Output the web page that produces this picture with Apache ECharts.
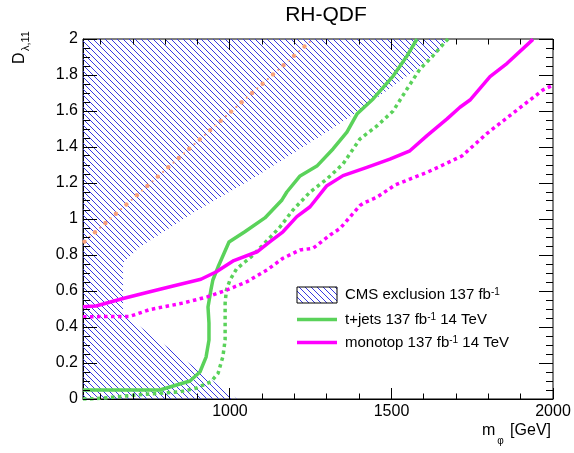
<!DOCTYPE html>
<html><head><meta charset="utf-8">
<script src="https://cdn.jsdelivr.net/npm/echarts@6/dist/echarts.min.js"></script>
<style>html,body{margin:0;padding:0;background:#fff}#c{width:574px;height:453px}</style>
</head><body><div id="c"></div>
<script>
// ---- texts ----
const chartTitle = 'RH-QDF';
const legendNames = ['CMS exclusion 137 fb', 't+jets 137 fb', 'monotop 137 fb'];
const legendTails = ['', ' 14 TeV', ' 14 TeV'];

// ---- axes ----
const xMin = 545, xMax = 2000, yMin = 0, yMax = 2;
const xMajorTicks = [1000, 1500, 2000];
const xMinorTicks = [600, 700, 800, 900, 1100, 1200, 1300, 1400, 1600, 1700, 1800, 1900];
const yMajorTicks = [0, 0.2, 0.4, 0.6, 0.8, 1.0, 1.2, 1.4, 1.6, 1.8, 2.0];
const yMinorTicks = [0.05, 0.1, 0.15, 0.25, 0.3, 0.35, 0.45, 0.5, 0.55, 0.65, 0.7, 0.75, 0.85, 0.9, 0.95,
                     1.05, 1.1, 1.15, 1.25, 1.3, 1.35, 1.45, 1.5, 1.55, 1.65, 1.7, 1.75, 1.85, 1.9, 1.95];

// ---- CMS exclusion region (hatched polygon) ----
const cmsMass = [545, 1675, 1641, 1579, 1505, 1433, 1393, 1310, 1093, 1062, 885, 721, 669, 669, 1022, 545];
const cmsD    = [2.0, 2.0, 1.928, 1.833, 1.739, 1.644, 1.594, 1.494, 1.25, 1.217, 1.033, 0.844, 0.756, 0.472, 0.0, 0.0];

// ---- orange diagonal (dash-dot) ----
const diagMass = [545, 1257];
const diagD    = [0.867, 2.0];

// ---- t+jets solid ----
const tjMass = [545, 783, 876, 907, 926, 935, 935, 932, 941, 947, 963, 997, 1046, 1108, 1161, 1176, 1217, 1269, 1319, 1362, 1393, 1443, 1505, 1548, 1579];
const tjD    = [0.05, 0.05, 0.1, 0.15, 0.233, 0.328, 0.422, 0.511, 0.606, 0.661, 0.733, 0.872, 0.929, 1.006, 1.106, 1.15, 1.239, 1.294, 1.389, 1.483, 1.583, 1.667, 1.794, 1.906, 2.0];

// ---- t+jets dotted ----
const tjdMass = [545, 567, 638, 709, 783, 845, 895, 941, 963, 978, 985, 985, 985, 989, 1000, 1020, 1046, 1068, 1099, 1155, 1195, 1248, 1300, 1350, 1402, 1455, 1505, 1548, 1588, 1628, 1666, 1675];
const tjdD    = [0.0, 0.0, 0.01, 0.022, 0.032, 0.04, 0.06, 0.096, 0.142, 0.235, 0.328, 0.422, 0.533, 0.606, 0.661, 0.722, 0.761, 0.794, 0.85, 0.956, 1.05, 1.15, 1.222, 1.306, 1.444, 1.517, 1.6, 1.722, 1.833, 1.906, 1.983, 2.0];

// ---- monotop solid ----
const mtMass = [545, 585, 669, 752, 824, 910, 958, 1012, 1084, 1124, 1164, 1207, 1248, 1300, 1350, 1424, 1495, 1557, 1610, 1672, 1712, 1743, 1805, 1858, 1938];
const mtD    = [0.513, 0.517, 0.558, 0.596, 0.628, 0.665, 0.707, 0.769, 0.818, 0.874, 0.929, 1.013, 1.068, 1.185, 1.241, 1.287, 1.333, 1.379, 1.463, 1.556, 1.621, 1.661, 1.791, 1.865, 1.998];

// ---- monotop dotted ----
const mtdMass = [545, 690, 752, 855, 929, 991, 1053, 1115, 1164, 1217, 1257, 1310, 1341, 1402, 1412, 1455, 1511, 1557, 1610, 1659, 1718, 1796, 1889, 1969, 2000];
const mtdD    = [0.457, 0.459, 0.497, 0.533, 0.567, 0.606, 0.652, 0.717, 0.782, 0.828, 0.837, 0.911, 0.948, 1.074, 1.087, 1.121, 1.189, 1.222, 1.259, 1.3, 1.35, 1.476, 1.606, 1.717, 1.744];

const GREEN = '#5ad25a', MAGENTA = '#ff00ff', ORANGE = '#f7a07a', HATCH = '#3a3ae0';
const FONT = "'Liberation Sans', Arial, Helvetica, sans-serif";

function pairs(xs, ys) { return xs.map((x, i) => [x, ys[i]]); }

function hatchPattern() {
  const c = document.createElement('canvas');
  c.width = 6; c.height = 6;
  const g = c.getContext('2d');
  g.strokeStyle = HATCH; g.lineWidth = 1;
  g.beginPath();
  for (let k = -6; k <= 6; k += 6) { g.moveTo(k, 0); g.lineTo(k + 6, 6); }
  g.stroke();
  return c;
}
const pattern = { image: hatchPattern(), repeat: 'repeat' };

function lineSeries(xs, ys, color, width, type) {
  return {
    type: 'line', data: pairs(xs, ys), symbol: 'none', smooth: false,
    lineStyle: { color: color, width: width, type: type, cap: 'butt', join: 'round' },
    z: 3, silent: true
  };
}

const chart = echarts.init(document.getElementById('c'));
chart.setOption({
  animation: false,
  grid: { left: 83, right: 21, top: 39, bottom: 54, show: true, borderColor: '#000', borderWidth: 1 },
  xAxis: [{
    type: 'value', min: xMin, max: xMax,
    axisLine: { show: true, onZero: false, lineStyle: { color: '#000', width: 1 } },
    axisTick: { show: false },
    axisLabel: { show: true, customValues: xMajorTicks, fontSize: 16, color: '#000', fontFamily: FONT, margin: 5, formatter: v => String(v) },
    splitLine: { show: false }
  }],
  yAxis: [{
    type: 'value', min: yMin, max: yMax, interval: 0.2,
    axisLine: { show: true, onZero: false, lineStyle: { color: '#000', width: 1 } },
    axisTick: { show: false },
    axisLabel: { show: true, fontSize: 16, color: '#000', fontFamily: FONT, margin: 5, formatter: v => String(Math.round(v * 10) / 10) },
    splitLine: { show: false }
  }],
  series: [
    {
      type: 'custom', data: [0], z: 1, silent: true,
      renderItem: function (params, api) {
        const pts = cmsMass.map((m, i) => api.coord([m, cmsD[i]]));
        return { type: 'polygon', shape: { points: pts }, style: { fill: pattern, stroke: null } };
      }
    },
    lineSeries(tjMass, tjD, GREEN, 3.5, 'solid'),
    lineSeries(tjdMass, tjdD, GREEN, 3.5, [3.5, 3.5]),
    lineSeries(mtMass, mtD, MAGENTA, 3.5, 'solid'),
    lineSeries(mtdMass, mtdD, MAGENTA, 3.5, [3.5, 3.5]),
    {
      // orange dash-dot diagonal between its two data points: alternating large and small filled dots
      type: 'custom', data: [0], z: 4, silent: true,
      renderItem: function (params, api) {
        const a = api.coord([diagMass[0], diagD[0]]);
        const b = api.coord([diagMass[1], diagD[1]]);
        const dx = b[0] - a[0], dy = b[1] - a[1];
        const L = Math.hypot(dx, dy);
        const ch = [];
        let k = 0;
        for (let s = 2; s <= L; s += 7, k++) {
          const t = s / L;
          ch.push({ type: 'circle', shape: { cx: a[0] + dx * t, cy: a[1] + dy * t, r: k % 2 === 0 ? 2.2 : 1.1 }, style: { fill: ORANGE } });
        }
        return { type: 'group', children: ch };
      }
    },
    {
      // axis ticks on all four sides (filled 1px bars), placed through the axis scales
      type: 'custom', data: [0], z: 10, silent: true, clip: false,
      renderItem: function (params, api) {
        const ch = [];
        const bar = (x, y, w, h) => ch.push({ type: 'rect', shape: { x: x, y: y, width: w, height: h }, style: { fill: '#000' } });
        const xt = (vals, len) => vals.forEach(v => {
          const b = api.coord([v, yMin]), t = api.coord([v, yMax]);
          const x = Math.floor(b[0]);
          bar(x, b[1] - len, 1, len);
          bar(x, t[1], 1, len);
        });
        const yt = (vals, len) => vals.forEach(v => {
          const l = api.coord([xMin, v]), r = api.coord([xMax, v]);
          const y = Math.floor(l[1]);
          bar(l[0], y, len, 1);
          bar(r[0] - len, y, len, 1);
        });
        xt(xMajorTicks, 11); xt(xMinorTicks, 5.5);
        yt(yMajorTicks, 14); yt(yMinorTicks, 7);
        return { type: 'group', children: ch };
      }
    }
  ],
  graphic: [
    { type: 'text', x: 326, y: 15, style: { text: chartTitle, font: '21px ' + FONT, fill: '#000', textAlign: 'center', textVerticalAlign: 'middle' } },
    // y axis title
    { type: 'text', x: 19.5, y: 64, rotation: Math.PI / 2, style: { text: 'D', font: '16px ' + FONT, fill: '#000', textAlign: 'left', textVerticalAlign: 'middle' } },
    { type: 'text', x: 25.5, y: 51, rotation: Math.PI / 2, style: { text: 'λ,11', font: '11px ' + FONT, fill: '#000', textAlign: 'left', textVerticalAlign: 'middle' } },
    // x axis title
    { type: 'text', x: 482, y: 431, style: { text: 'm', font: '16px ' + FONT, fill: '#000', textAlign: 'left', textVerticalAlign: 'middle' } },
    { type: 'text', x: 500.5, y: 441, style: { text: 'φ', font: '10px ' + FONT, fill: '#000', textAlign: 'center', textVerticalAlign: 'middle' } },
    { type: 'text', x: 551, y: 431, style: { text: '[GeV]', font: '16px ' + FONT, fill: '#000', textAlign: 'right', textVerticalAlign: 'middle' } },
    // legend
    { type: 'rect', shape: { x: 297, y: 287, width: 40, height: 16 }, style: { fill: pattern, stroke: '#000', lineWidth: 1 } },
    { type: 'line', shape: { x1: 297, y1: 319.5, x2: 337, y2: 319.5 }, style: { stroke: GREEN, lineWidth: 3.5 } },
    { type: 'line', shape: { x1: 297, y1: 342.5, x2: 337, y2: 342.5 }, style: { stroke: MAGENTA, lineWidth: 3.5 } },
    ...legendNames.map((n, i) => ({
      type: 'text', x: 345, y: [295, 319.5, 343][i],
      style: {
        text: '{m|' + n + '}{s|-1}' + (legendTails[i] ? '{m|' + legendTails[i] + '}' : ''),
        textAlign: 'left', textVerticalAlign: 'middle',
        rich: {
          m: { fontSize: 15, fontFamily: FONT, fill: '#000' },
          s: { fontSize: 10, fontFamily: FONT, fill: '#000', verticalAlign: 'top' }
        }
      }
    }))
  ]
});
</script>
</body></html>
